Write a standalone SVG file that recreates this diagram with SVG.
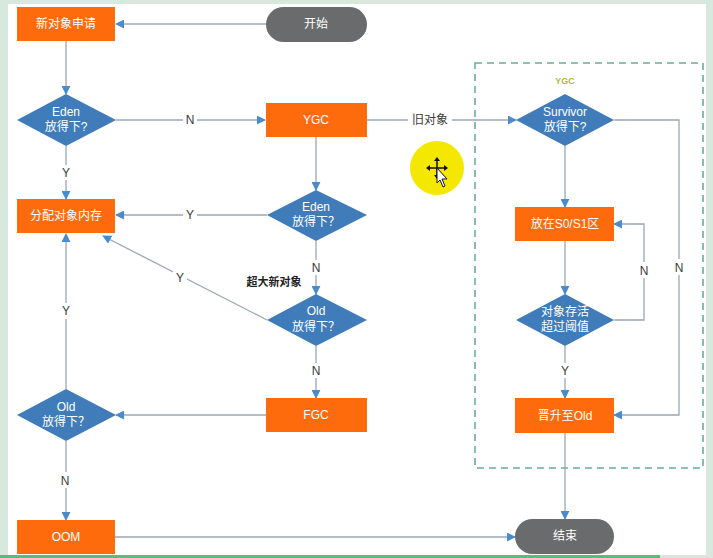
<svg xmlns="http://www.w3.org/2000/svg" width="713" height="558" viewBox="0 0 713 558">
  <style>
    .box { fill: #fd6b0c; }
    .dia { fill: #3f7cb9; }
    .pill { fill: #6a6b6d; }
    .t { font-family: "Liberation Sans", "Noto Sans CJK SC", sans-serif; font-size: 12px; fill: #ffffff; text-anchor: middle; }
    .lbl { font-family: "Liberation Sans", "Noto Sans CJK SC", sans-serif; font-size: 12px; fill: #3a3a3a; text-anchor: middle; }
    .wire { fill: none; stroke: #9aa7b4; stroke-width: 1.3; }
    .gap { fill: #ffffff; }
  </style>
  <defs>
    <marker id="ah" viewBox="0 0 10 10" refX="9" refY="5" markerWidth="9" markerHeight="9" markerUnits="userSpaceOnUse" orient="auto">
      <path d="M0,0 L10,5 L0,10 z" fill="#4a8bcc"/>
    </marker>
  </defs>

  <!-- page frame -->
  <rect x="0" y="0" width="713" height="558" fill="#d6e9dc"/>
  <rect x="8" y="4" width="698" height="551" fill="#ffffff"/>
  <rect x="0" y="555" width="660" height="3" fill="#5cba7d"/>
  <rect x="660" y="555" width="53" height="3" fill="#dfe3e0"/>

  <!-- YGC region -->
  <g id="ygc-region">
    <rect x="475" y="63" width="228" height="405" fill="none" stroke="#6aaaa2" stroke-width="1.6" stroke-dasharray="7,5"/>
    <text x="565" y="84" font-family="Liberation Sans, sans-serif" font-size="9" font-weight="bold" fill="#b5b840" text-anchor="middle">YGC</text>
  </g>

  <!-- connectors -->
  <g id="connectors">
    <path class="wire" d="M266,24 L116,24" marker-end="url(#ah)"/>
    <path class="wire" d="M66,41 L66,94" marker-end="url(#ah)"/>
    <path class="wire" d="M116,120 L265,120" marker-end="url(#ah)"/>
    <path class="wire" d="M66,146 L66,199" marker-end="url(#ah)"/>
    <path class="wire" d="M367,120 L516,120" marker-end="url(#ah)"/>
    <path class="wire" d="M316,137 L316,190" marker-end="url(#ah)"/>
    <path class="wire" d="M267,215 L116,215" marker-end="url(#ah)"/>
    <path class="wire" d="M316,241 L316,294" marker-end="url(#ah)"/>
    <path class="wire" d="M267,320 L103,236" marker-end="url(#ah)"/>
    <path class="wire" d="M316,346 L316,398" marker-end="url(#ah)"/>
    <path class="wire" d="M266,415 L116,415" marker-end="url(#ah)"/>
    <path class="wire" d="M66,389 L66,234" marker-end="url(#ah)"/>
    <path class="wire" d="M66,441 L66,520" marker-end="url(#ah)"/>
    <path class="wire" d="M115,537 L515,537" marker-end="url(#ah)"/>
    <path class="wire" d="M565,146 L565,207" marker-end="url(#ah)"/>
    <path class="wire" d="M614,120 L679,120 L679,415 L614,415" marker-end="url(#ah)"/>
    <path class="wire" d="M565,241 L565,294" marker-end="url(#ah)"/>
    <path class="wire" d="M614,320 L644,320 L644,224 L614,224" marker-end="url(#ah)"/>
    <path class="wire" d="M565,346 L565,398" marker-end="url(#ah)"/>
    <path class="wire" d="M565,433 L565,519" marker-end="url(#ah)"/>

    <!-- connector labels -->
    <rect class="gap" x="183" y="112" width="14" height="15"/>
    <text class="lbl" x="190" y="124">N</text>
    <rect class="gap" x="58" y="165" width="16" height="15"/>
    <text class="lbl" x="66" y="177">Y</text>
    <rect class="gap" x="408" y="112" width="44" height="15"/>
    <text class="lbl" x="430" y="124">旧对象</text>
    <rect class="gap" x="183" y="207" width="14" height="15"/>
    <text class="lbl" x="190" y="219">Y</text>
    <rect class="gap" x="309" y="260" width="14" height="15"/>
    <text class="lbl" x="316" y="272">N</text>
    <text x="274" y="286" font-family="Liberation Sans, Noto Sans CJK SC, sans-serif" font-size="11" font-weight="bold" fill="#222" text-anchor="middle">超大新对象</text>
    <rect class="gap" x="173" y="270" width="14" height="15"/>
    <text class="lbl" x="180" y="282">Y</text>
    <rect class="gap" x="58" y="303" width="16" height="16"/>
    <text class="lbl" x="66" y="315">Y</text>
    <rect class="gap" x="309" y="363" width="14" height="15"/>
    <text class="lbl" x="316" y="375">N</text>
    <rect class="gap" x="58" y="472" width="16" height="16"/>
    <text class="lbl" x="65" y="485">N</text>
    <rect class="gap" x="637" y="262" width="14" height="16"/>
    <text class="lbl" x="644" y="275">N</text>
    <rect class="gap" x="672" y="259" width="14" height="16"/>
    <text class="lbl" x="679" y="272">N</text>
    <rect class="gap" x="558" y="363" width="14" height="15"/>
    <text class="lbl" x="565" y="375">Y</text>
  </g>

  <!-- nodes -->
  <g id="start">
    <rect class="pill" x="266" y="7" width="101" height="35" rx="17.5"/>
    <text class="t" x="316" y="28">开始</text>
  </g>
  <g id="new-object">
    <rect class="box" x="17" y="7" width="98" height="34"/>
    <text class="t" x="66" y="28">新对象申请</text>
  </g>
  <g id="eden-check">
    <polygon class="dia" points="66,94 116,120 66,146 17,120"/>
    <text class="t" x="66" y="116">Eden</text>
    <text class="t" x="66" y="131">放得下?</text>
  </g>
  <g id="ygc">
    <rect class="box" x="266" y="103" width="101" height="34"/>
    <text class="t" x="316" y="124">YGC</text>
  </g>
  <g id="allocate">
    <rect class="box" x="17" y="199" width="98" height="34"/>
    <text class="t" x="66" y="220">分配对象内存</text>
  </g>
  <g id="eden-recheck">
    <polygon class="dia" points="316,190 367,215 316,241 267,215"/>
    <text class="t" x="316" y="211">Eden</text>
    <text class="t" x="316" y="226">放得下？</text>
  </g>
  <g id="old-check">
    <polygon class="dia" points="316,294 367,320 316,346 267,320"/>
    <text class="t" x="316" y="315">Old</text>
    <text class="t" x="316" y="331">放得下？</text>
  </g>
  <g id="fgc">
    <rect class="box" x="266" y="398" width="101" height="34"/>
    <text class="t" x="316" y="419">FGC</text>
  </g>
  <g id="old-recheck">
    <polygon class="dia" points="66,389 116,415 66,441 17,415"/>
    <text class="t" x="66" y="411">Old</text>
    <text class="t" x="66" y="426">放得下？</text>
  </g>
  <g id="oom">
    <rect class="box" x="17" y="520" width="98" height="34"/>
    <text class="t" x="66" y="541">OOM</text>
  </g>
  <g id="survivor-check">
    <polygon class="dia" points="565,94 614,120 565,146 516,120"/>
    <text class="t" x="565" y="116">Survivor</text>
    <text class="t" x="565" y="131">放得下?</text>
  </g>
  <g id="s0s1">
    <rect class="box" x="515" y="207" width="99" height="34"/>
    <text class="t" x="565" y="228">放在S0/S1区</text>
  </g>
  <g id="age-check">
    <polygon class="dia" points="565,294 614,320 565,346 516,320"/>
    <text class="t" x="565" y="316">对象存活</text>
    <text class="t" x="565" y="331">超过阈值</text>
  </g>
  <g id="promote">
    <rect class="box" x="515" y="398" width="99" height="35"/>
    <text class="t" x="565" y="420">晋升至Old</text>
  </g>
  <g id="end">
    <rect class="pill" x="515" y="519" width="99" height="35" rx="17.5"/>
    <text class="t" x="565" y="540">结束</text>
  </g>

  <!-- pointer highlight -->
  <g id="pointer">
    <circle cx="437" cy="168" r="27" fill="#f5e800"/>
    <path d="M437,160 L437,176 M429,168 L445,168" stroke="#111" stroke-width="1.5"/>
    <path d="M437,157 l-3,4 h6 z M437,179 l-3,-4 h6 z M426,168 l4,-3 v6 z M448,168 l-4,-3 v6 z" fill="#111"/>
    <path d="M437,168 L437,183 L440,180 L443,187 L445,186 L442,179 L447,179 z" fill="#fff" stroke="#111" stroke-width="1"/>
  </g>
</svg>
